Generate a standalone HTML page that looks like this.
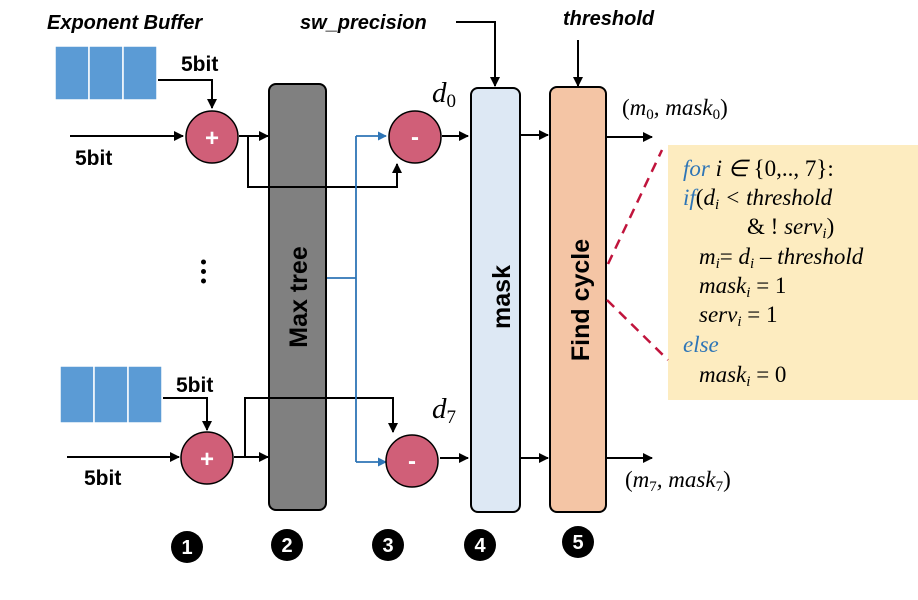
<!DOCTYPE html>
<html><head><meta charset="utf-8"><style>
html,body{margin:0;padding:0;background:#fff}
svg{display:block}
.b{font-family:"Liberation Sans",sans-serif;font-weight:bold}
.m{font-family:"Liberation Serif",serif;font-style:italic}
</style></head><body>
<svg width="918" height="600" viewBox="0 0 918 600" xmlns="http://www.w3.org/2000/svg">
<defs>
<marker id="a" viewBox="0 0 10 10" refX="9" refY="5" markerWidth="5" markerHeight="5" orient="auto"><path d="M0,0L10,5L0,10z" fill="#000"/></marker>
<marker id="ab" viewBox="0 0 10 10" refX="9" refY="5" markerWidth="5" markerHeight="5" orient="auto"><path d="M0,0L10,5L0,10z" fill="#2e75b6"/></marker>
</defs>
<rect x="668" y="145" width="250" height="255" fill="#fdecc0"/>
<!-- titles -->
<text x="47" y="29" class="b" font-style="italic" font-size="20">Exponent Buffer</text>
<text x="300" y="29" class="b" font-style="italic" font-size="20">sw_precision</text>
<text x="563" y="25" class="b" font-style="italic" font-size="20">threshold</text>
<!-- buffers -->
<g fill="#5b9bd5" stroke="#fff" stroke-width="1.5">
<rect x="55" y="46" width="34" height="54"/><rect x="89" y="46" width="34" height="54"/><rect x="123" y="46" width="34" height="54"/>
<rect x="60" y="366" width="34" height="57"/><rect x="94" y="366" width="34" height="57"/><rect x="128" y="366" width="34" height="57"/>
</g>
<!-- blocks -->
<rect x="269" y="84" width="57" height="426" rx="7" fill="#808080" stroke="#000" stroke-width="2"/>
<rect x="471" y="88" width="49" height="424" rx="7" fill="#dde8f4" stroke="#000" stroke-width="2"/>
<rect x="550" y="87" width="56" height="425" rx="7" fill="#f4c5a5" stroke="#000" stroke-width="2"/>
<g stroke="#000" stroke-width="2" fill="none">
<polyline points="158,80 212,80 212,108" marker-end="url(#a)"/>
<line x1="70" y1="136" x2="183" y2="136" marker-end="url(#a)"/>
<line x1="239" y1="136" x2="268" y2="136" marker-end="url(#a)"/>
<polyline points="248,136 248,187 397,187 397,164" marker-end="url(#a)"/>
<polyline points="163,398 207,398 207,430" marker-end="url(#a)"/>
<line x1="67" y1="457" x2="179" y2="457" marker-end="url(#a)"/>
<line x1="234" y1="457" x2="268" y2="457" marker-end="url(#a)"/>
<polyline points="245,457 245,398 393,398 393,432" marker-end="url(#a)"/>
<line x1="442" y1="136" x2="468" y2="136" marker-end="url(#a)"/>
<line x1="440" y1="458" x2="468" y2="458" marker-end="url(#a)"/>
<line x1="521" y1="135" x2="548" y2="135" marker-end="url(#a)"/>
<line x1="521" y1="458" x2="548" y2="458" marker-end="url(#a)"/>
<line x1="607" y1="137" x2="652" y2="137" marker-end="url(#a)"/>
<line x1="607" y1="458" x2="652" y2="458" marker-end="url(#a)"/>
<polyline points="456,22 495,22 495,86" marker-end="url(#a)"/>
<line x1="578" y1="40" x2="578" y2="86" marker-end="url(#a)"/>
</g>
<g stroke="#2e75b6" stroke-width="1.8" fill="none">
<line x1="327" y1="278" x2="356" y2="278"/>
<line x1="356" y1="136" x2="356" y2="462"/>
<line x1="356" y1="136" x2="386" y2="136" marker-end="url(#ab)"/>
<line x1="356" y1="462" x2="386" y2="462" marker-end="url(#ab)"/>
</g>
<text transform="translate(307,297) rotate(-90)" text-anchor="middle" class="b" font-size="25">Max tree</text>
<text transform="translate(510,297) rotate(-90)" text-anchor="middle" class="b" font-size="25">mask</text>
<text transform="translate(589,300) rotate(-90)" text-anchor="middle" class="b" font-size="25">Find cycle</text>
<!-- circles -->
<g fill="#d05f78" stroke="#000" stroke-width="1.5">
<circle cx="212" cy="137" r="26"/><circle cx="415" cy="137" r="26"/>
<circle cx="207" cy="458" r="26"/><circle cx="412" cy="461" r="26"/>
</g>
<g fill="#fff" class="b" font-size="24" text-anchor="middle">
<text x="212" y="146">+</text><text x="415" y="145">-</text>
<text x="207" y="467">+</text><text x="412" y="469">-</text>
</g>
<g class="b" font-size="21">
<text x="181" y="71">5bit</text><text x="75" y="165">5bit</text>
<text x="176" y="392">5bit</text><text x="84" y="485">5bit</text>
</g>
<circle cx="203.5" cy="262" r="2.5"/><circle cx="203.5" cy="271.5" r="2.5"/><circle cx="203.5" cy="281" r="2.5"/>
<text x="432" y="102" class="m" font-size="29">d<tspan font-size="19" dy="5" font-style="normal">0</tspan></text>
<text x="432" y="418" class="m" font-size="29">d<tspan font-size="19" dy="5" font-style="normal">7</tspan></text>
<text x="622" y="115" class="m" font-size="23"><tspan font-style="normal">(</tspan>m<tspan font-size="15" dy="4" font-style="normal">0</tspan><tspan dy="-4">, mask</tspan><tspan font-size="15" dy="4" font-style="normal">0</tspan><tspan dy="-4" font-style="normal">)</tspan></text>
<text x="625" y="487" class="m" font-size="23"><tspan font-style="normal">(</tspan>m<tspan font-size="15" dy="4" font-style="normal">7</tspan><tspan dy="-4">, mask</tspan><tspan font-size="15" dy="4" font-style="normal">7</tspan><tspan dy="-4" font-style="normal">)</tspan></text>
<!-- dashed -->
<g stroke="#c0143c" stroke-width="2.5" stroke-dasharray="10,7" fill="none">
<line x1="608" y1="264" x2="662" y2="150"/>
<line x1="607" y1="300" x2="668" y2="360"/>
</g>
<!-- code -->
<g class="m" font-size="23" fill="#000">
<text x="683" y="176"><tspan fill="#2e75b6">for</tspan> i ∈ <tspan font-style="normal">{0,.., 7}:</tspan></text>
<text x="683" y="205"><tspan fill="#2e75b6">if</tspan><tspan font-style="normal">(</tspan>d<tspan font-size="15" dy="4">i</tspan><tspan dy="-4"> &lt; threshold</tspan></text>
<text x="747" y="234"><tspan font-style="normal">&amp; ! </tspan>serv<tspan font-size="15" dy="4">i</tspan><tspan dy="-4" font-style="normal">)</tspan></text>
<text x="699" y="264">m<tspan font-size="15" dy="4">i</tspan><tspan dy="-4" font-style="normal">= </tspan>d<tspan font-size="15" dy="4">i</tspan><tspan dy="-4"> – threshold</tspan></text>
<text x="699" y="293">mask<tspan font-size="15" dy="4">i</tspan><tspan dy="-4" font-style="normal">  =  1</tspan></text>
<text x="699" y="322">serv<tspan font-size="15" dy="4">i</tspan><tspan dy="-4" font-style="normal"> = 1</tspan></text>
<text x="683" y="352" fill="#2e75b6">else</text>
<text x="699" y="382">mask<tspan font-size="15" dy="4">i</tspan><tspan dy="-4" font-style="normal">  =  0</tspan></text>
</g>
<!-- numbers -->
<g fill="#000"><circle cx="187" cy="547" r="16"/><circle cx="287" cy="545" r="16"/><circle cx="388" cy="545" r="16"/><circle cx="480" cy="545" r="16"/><circle cx="578" cy="542" r="16"/></g>
<g fill="#fff" class="b" font-size="20" text-anchor="middle">
<text x="187" y="554">1</text><text x="287" y="552">2</text><text x="388" y="552">3</text><text x="480" y="552">4</text><text x="578" y="549">5</text>
</g>
</svg>
</body></html>
